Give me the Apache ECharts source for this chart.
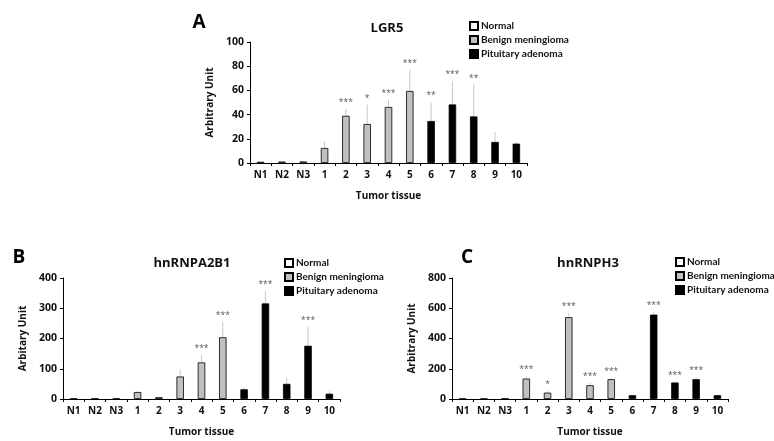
<!DOCTYPE html>
<html><head><meta charset="utf-8">
<script src="https://cdn.jsdelivr.net/npm/echarts@6/dist/echarts.min.js"></script>
<style>html,body{margin:0;padding:0;background:#fff}#c{width:774px;height:441px}</style>
</head><body><div id="c"></div>
<script>
const categories = ['N1','N2','N3','1','2','3','4','5','6','7','8','9','10'];
const groupOf = ['Normal','Normal','Normal','Benign meningioma','Benign meningioma','Benign meningioma','Benign meningioma','Benign meningioma','Pituitary adenoma','Pituitary adenoma','Pituitary adenoma','Pituitary adenoma','Pituitary adenoma'];
const groupNames = ['Normal','Benign meningioma','Pituitary adenoma'];

const lgr5Values = [1, 1.2, 1.3, 12.4, 39, 32.2, 46.3, 59.5, 34.7, 48.4, 38.5, 17.4, 16];
const lgr5ErrTop = [1, 1.2, 1.3, 17.9, 44.6, 48.2, 52, 77, 50, 67.4, 64.7, 25.6, 17.4];
const lgr5Stars  = ['', '', '', '', '***', '*', '***', '***', '**', '***', '**', '', ''];

const a2b1Values = [1.5, 1.5, 1.5, 23, 6, 74.4, 121, 204, 32, 316, 50, 176, 17.5];
const a2b1ErrTop = [1.5, 1.5, 1.5, 27, 6, 97.6, 146, 255, 37, 357, 70, 239, 26];
const a2b1Stars  = ['', '', '', '', '', '', '***', '***', '', '***', '', '***', ''];

const h3Values = [2, 2, 3, 135, 42, 541, 91, 131, 25, 558, 109, 131, 25];
const h3ErrTop = [2, 2, 3, 150, 52, 567, 106, 137, 25, 573, 115, 142, 28];
const h3Stars  = ['', '', '', '***', '*', '***', '***', '***', '', '***', '***', '***', ''];

const yTicksA = [0, 100, 20];
const yTicksB = [0, 400, 100];
const yTicksC = [0, 800, 200];

const FONT = 'Open Sans';
const LFONT = 'Lato';
const groupColor = {'Normal':'#ffffff','Benign meningioma':'#c0c0c0','Pituitary adenoma':'#000000'};

const panels = [
  {values: lgr5Values, err: lgr5ErrTop, stars: lgr5Stars, ticks: yTicksA, yname: 'Arbitrary Unit',
   grid: {left: 250, right: 247, top: 42, bottom: 278}, title: 'LGR5', tx: 382, ty: 17,
   letter: 'A', lx: 194, ly: 8, legend: {left: 464, top: 16}},
  {values: a2b1Values, err: a2b1ErrTop, stars: a2b1Stars, ticks: yTicksB, yname: 'Arbitary Unit',
   grid: {left: 63, right: 434, top: 278, bottom: 42}, title: 'hnRNPA2B1', tx: 187, ty: 252,
   letter: 'B', lx: 14, ly: 243, legend: {left: 279, top: 253}},
  {values: h3Values, err: h3ErrTop, stars: h3Stars, ticks: yTicksC, yname: 'Arbitrary Unit',
   grid: {left: 452, right: 46, top: 278, bottom: 42}, title: 'hnRNPH3', tx: 583, ty: 252,
   letter: 'C', lx: 462, ly: 243, legend: {left: 670, top: 252}}
];

const option = {
  animation: false,
  backgroundColor: '#fff',
  textStyle: {fontFamily: FONT},
  title: [], grid: [], xAxis: [], yAxis: [], series: [], legend: []
};

panels.forEach((p, i) => {
  option.title.push({text: p.title, left: p.tx, top: p.ty, textAlign: 'center',
    textStyle: {fontFamily: FONT, fontSize: 13, fontWeight: 'bold', color: '#111'}});
  option.title.push({text: p.letter, left: p.lx, top: p.ly, textAlign: 'center',
    textStyle: {fontFamily: FONT, fontSize: 19, fontWeight: 'bold', color: '#000'}});
  option.grid.push(p.grid);
  option.xAxis.push({type: 'category', gridIndex: i, data: categories,
    name: 'Tumor tissue', nameLocation: 'middle', nameGap: 28,
    nameTextStyle: {fontFamily: FONT, fontSize: 10, fontWeight: 'bold', color: '#111'},
    axisLine: {lineStyle: {color: '#000', width: 1}},
    axisTick: {show: true, length: 3, lineStyle: {color: '#000'}},
    axisLabel: {fontFamily: FONT, fontSize: 10, fontWeight: 'bold', color: '#111', margin: 7, interval: 0}
  });
  option.yAxis.push({type: 'value', gridIndex: i, min: p.ticks[0], max: p.ticks[1], interval: p.ticks[2],
    name: p.yname, nameLocation: 'middle', nameGap: 35, nameRotate: 90,
    nameTextStyle: {fontFamily: FONT, fontSize: 10, fontWeight: 'bold', color: '#111'},
    axisLine: {show: true, lineStyle: {color: '#000', width: 1}},
    axisTick: {show: true, length: 3, lineStyle: {color: '#000'}},
    axisLabel: {fontFamily: FONT, fontSize: 10.5, fontWeight: 'bold', color: '#111', margin: 6},
    splitLine: {show: false}
  });
  groupNames.forEach(g => {
    option.series.push({
      type: 'bar', name: g, xAxisIndex: i, yAxisIndex: i, stack: 'p' + i,
      barWidth: '35%',
      itemStyle: {color: groupColor[g], borderColor: '#000', borderWidth: 0.8},
      data: p.values.map((v, k) => groupOf[k] === g ? v : '-'),
      z: 2
    });
  });
  option.series.push({
    type: 'custom', xAxisIndex: i, yAxisIndex: i, z: 1,
    data: p.values.map((v, k) => [k, v, p.err[k]]),
    renderItem: function (params, api) {
      const k = api.value(0);
      const top = api.coord([k, api.value(1)]);
      const et = api.coord([k, api.value(2)]);
      const star = p.stars[params.dataIndex];
      const children = [];
      if (api.value(2) > api.value(1)) {
        children.push({type: 'line', shape: {x1: top[0], y1: top[1], x2: et[0], y2: et[1]},
          style: {stroke: '#c8c8c8', lineWidth: 1}});
      }
      if (star) {
        children.push({type: 'text', x: et[0], y: et[1] - 2,
          style: {text: star, fill: '#555', font: '8.5px "' + FONT + '"', align: 'center', verticalAlign: 'bottom'}});
      }
      return {type: 'group', children: children};
    }
  });
  option.legend.push({
    data: groupNames, orient: 'vertical', left: p.legend.left, top: p.legend.top,
    itemWidth: 8, itemHeight: 8, itemGap: 4, icon: 'rect', selectedMode: false,
    textStyle: {fontFamily: LFONT, fontSize: 10, fontWeight: 'bold', color: '#111', padding: [0, 0, 0, -2]}
  });
});

const chart = echarts.init(document.getElementById('c'), null, {renderer: 'canvas'});
chart.setOption(option);
</script></body></html>
